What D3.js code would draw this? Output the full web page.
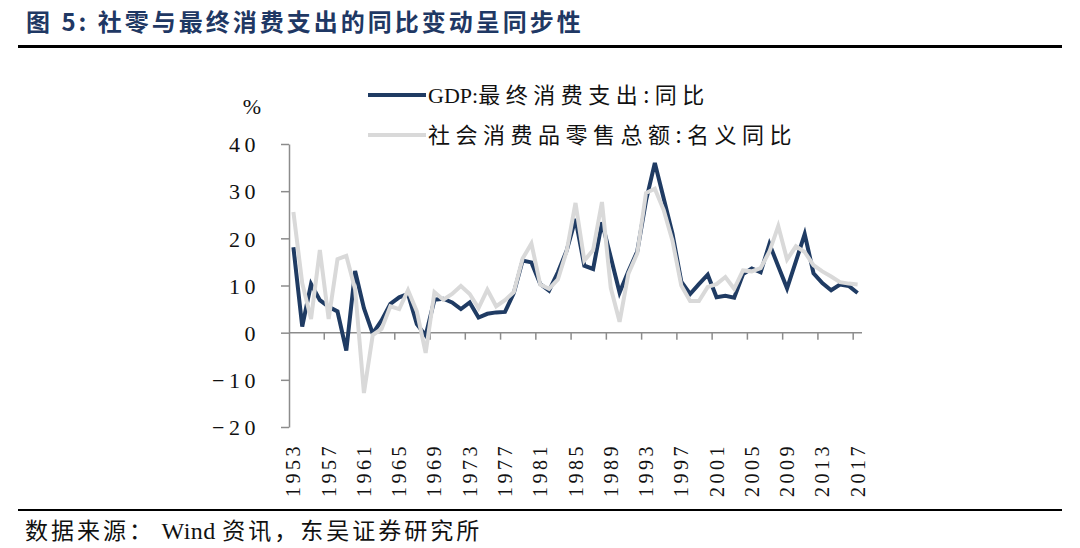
<!DOCTYPE html>
<html><head><meta charset="utf-8">
<script src="https://cdn.jsdelivr.net/npm/d3@7"></script>
<style>
html,body{margin:0;padding:0;background:#fff;}
svg{display:block;}
</style></head>
<body>
<svg id="c" width="1080" height="548"></svg>
<script>
// ---- data ----
const years = d3.range(1953, 2018);
const gdpConsumption = [18.1, 1.3, 10.3, 6.9, 5.5, 4.5, -3.8, 13.1, 5.2, -0.2,
  2.6, 6.1, 7.5, 8.2, 1.8, -0.6, 7.0, 7.2, 6.4, 5.0,
  6.4, 3.2, 4.0, 4.3, 4.4, 8.4, 15.3, 14.9, 10.3, 8.9,
  12.8, 17.4, 24.1, 14.2, 13.5, 23.4, 16.0, 8.5, 13.0, 17.2,
  28.0, 36.0, 28.5, 21.0, 10.8, 8.2, 10.3, 12.3, 7.5, 7.8,
  7.4, 12.4, 13.6, 12.8, 18.8, 14.1, 9.4, 15.1, 20.9, 12.6,
  10.5, 9.0, 10.2, 9.9, 8.4];
const retailSales = [25.6, 10.5, 2.9, 17.5, 2.9, 15.6, 16.3, 9.2, -12.8, -0.5,
  0.8, 5.6, 5.0, 9.0, 4.5, -4.3, 8.6, 7.0, 8.2, 9.9,
  8.2, 5.2, 9.1, 5.6, 6.9, 8.6, 15.7, 18.9, 10.2, 9.3,
  11.3, 17.3, 27.5, 15.3, 17.5, 27.7, 9.5, 2.3, 12.5, 16.8,
  29.6, 30.5, 26.0, 19.5, 10.0, 6.7, 6.7, 9.7, 10.3, 11.8,
  9.3, 13.2, 13.0, 13.7, 17.2, 22.6, 15.5, 18.3, 17.1, 14.3,
  13.0, 11.9, 10.7, 10.4, 10.2];
const yTicks = [-20, -10, 0, 10, 20, 30, 40];
const xLabelYears = d3.range(1953, 2018, 4);
const seriesNames = ["GDP:最终消费支出:同比", "社会消费品零售总额:名义同比"];
const titleText = "图 5:  社零与最终消费支出的同比变动呈同步性";
const sourceParts = ["数据来源：", " Wind ", "资讯，东吴证券研究所"];

// ---- drawing ----
const svg = d3.select("#c");
const navy = "#1F3B63", grey = "#D9D9D9", axisCol = "#8C8C8C";
const serif = "'Liberation Serif','Times New Roman',serif";
const cjk = "'Noto Sans CJK SC','Noto Sans CJK JP',sans-serif";

// title
svg.append("text").attr("x", 26).attr("y", 31)
  .attr("font-family", cjk).attr("font-weight", "bold").attr("font-size", 24)
  .attr("letter-spacing", 3).attr("fill", "#1F3864").text(titleText);
svg.append("rect").attr("x", 18).attr("y", 45).attr("width", 1044).attr("height", 3).attr("fill", "#000");
svg.append("rect").attr("x", 18).attr("y", 509).attr("width", 1044).attr("height", 2).attr("fill", "#000");
const src = svg.append("text").attr("x", 25).attr("y", 539)
  .attr("font-size", 23).attr("fill", "#111");
src.selectAll("tspan").data(sourceParts).join("tspan")
  .attr("font-family", (d, i) => i === 1 ? serif : cjk)
  .attr("font-size", (d, i) => i === 1 ? 24 : 23)
  .attr("letter-spacing", (d, i) => i === 1 ? 0.5 : 3)
  .style("white-space", "pre")
  .text(d => d);

const x = d3.scaleBand().domain(years).range([289, 862]).padding(0);
const y = d3.scaleLinear().domain([-20, 40]).range([427, 144]);
const cx = yr => x(yr) + x.bandwidth() / 2;

// y axis
const yAxis = d3.axisLeft(y).tickValues(yTicks).tickSize(8).tickSizeOuter(0).tickPadding(21)
  .tickFormat(d3.format("d"));
const gy = svg.append("g").attr("transform", "translate(289,0)").call(yAxis);
gy.select(".domain").attr("stroke", axisCol).attr("stroke-width", 1.5);
gy.selectAll(".tick line").attr("stroke", axisCol).attr("stroke-width", 1.5);
gy.selectAll(".tick text").attr("font-family", serif).attr("font-size", 22)
  .attr("letter-spacing", 4.5).attr("fill", "#111").attr("dy", "0.35em");

svg.append("text").attr("x", 252).attr("y", 114).attr("text-anchor", "middle")
  .attr("font-family", serif).attr("font-size", 22).attr("fill", "#111").text("%");

// x axis line at zero
svg.append("line").attr("x1", 289).attr("x2", 862).attr("y1", y(0)).attr("y2", y(0))
  .attr("stroke", axisCol).attr("stroke-width", 1.5);
svg.append("g").selectAll("line").data(xLabelYears.slice(1)).join("line")
  .attr("x1", d => x(d)).attr("x2", d => x(d))
  .attr("y1", y(0)).attr("y2", y(0) + 7)
  .attr("stroke", axisCol).attr("stroke-width", 1.5);
svg.append("g").selectAll("text").data(xLabelYears).join("text")
  .attr("transform", d => `translate(${cx(d) + 7},${497}) rotate(-90)`)
  .attr("font-family", serif).attr("font-size", 20).attr("letter-spacing", 3.5)
  .attr("fill", "#111").text(d => d);

// lines
const line = vals => d3.line().x((d, i) => cx(years[i])).y(d => y(d))(vals);
svg.append("path").attr("d", line(gdpConsumption)).attr("fill", "none")
  .attr("stroke", navy).attr("stroke-width", 4).attr("stroke-linejoin", "miter");
svg.append("path").attr("d", line(retailSales)).attr("fill", "none")
  .attr("stroke", grey).attr("stroke-width", 4).attr("stroke-linejoin", "miter");

// legend
const leg = [{name: seriesNames[0], col: navy, y: 95}, {name: seriesNames[1], col: grey, y: 135}];
const lg = svg.append("g");
lg.selectAll("line").data(leg).join("line")
  .attr("x1", 368).attr("x2", 426).attr("y1", d => d.y).attr("y2", d => d.y)
  .attr("stroke", d => d.col).attr("stroke-width", 4);
const lt = lg.selectAll("text").data(leg).join("text")
  .attr("x", 428).attr("y", d => d.y + 8)
  .attr("font-size", 22).attr("fill", "#111");
lt.each(function(d) {
  const t = d3.select(this);
  const m = d.name.match(/^([A-Za-z]+:)?(.*)$/);
  if (m[1]) t.append("tspan").attr("font-family", serif).text(m[1]);
  t.append("tspan").attr("font-family", cjk).attr("letter-spacing", 5.5).text(m[2]);
});
</script>
</body></html>
